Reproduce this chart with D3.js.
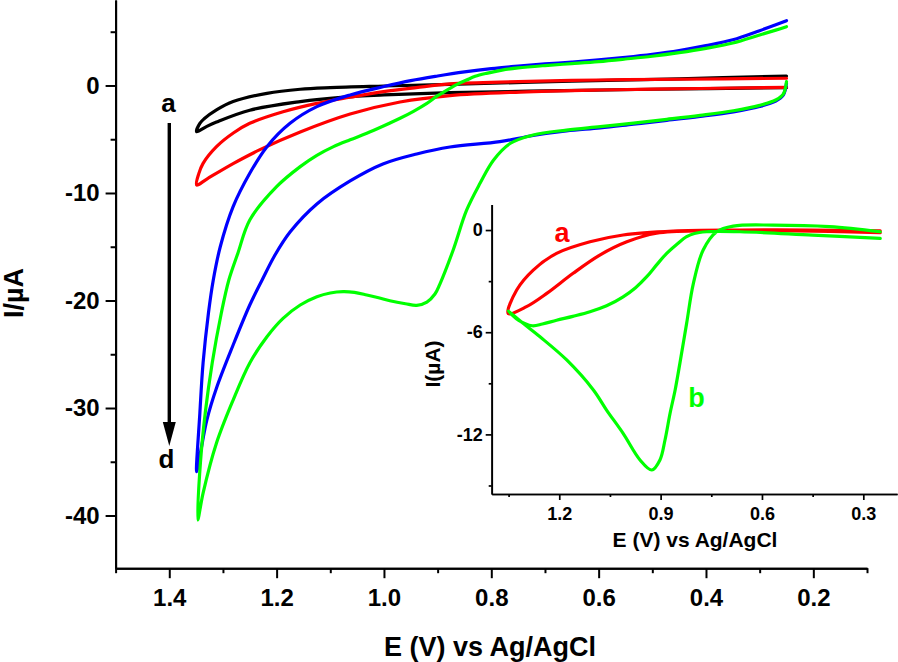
<!DOCTYPE html>
<html><head><meta charset="utf-8">
<script src="https://cdn.jsdelivr.net/npm/d3@7"></script>
<style>
body{margin:0;background:#fff;}
svg text{font-family:"Liberation Sans",Arial,sans-serif;font-weight:bold;}
</style></head><body>
<svg id="c" width="898" height="662"></svg>
<script>
// ---------- Main plot ticks ----------
const mainXTicks = [1.4, 1.2, 1.0, 0.8, 0.6, 0.4, 0.2];
const mainXTickLabels = ["1.4", "1.2", "1.0", "0.8", "0.6", "0.4", "0.2"];
const mainXMinor = [1.5, 1.3, 1.1, 0.9, 0.7, 0.5, 0.3, 0.1];
const mainYTicks = [0, -10, -20, -30, -40];
const mainYTickLabels = ["0", "-10", "-20", "-30", "-40"];
const mainYMinor = [5, -5, -15, -25, -35];

// ---------- Main curves (E in V, I in µA) ----------
const curveNames = ["a", "b", "c", "d"];
const curveColors = ["#000000", "#ff0000", "#0000ff", "#00ff00"];

const aE = [0.25,0.45,0.65,0.877,1.0,1.1,1.156,1.218,1.281,1.312,1.335,1.343,1.349,
            1.33,1.312,1.25,1.156,1.08,1.0,0.877,0.70,0.50,0.25];
const aI = [0.88,0.62,0.40,0.11,-0.05,-0.2,-0.35,-0.73,-1.5,-2.28,-3.1,-3.52,-4.3,
            -3.8,-3.4,-2.3,-1.5,-1.1,-0.88,-0.67,-0.50,-0.35,-0.2];

const bE = [0.25,0.45,0.60,0.75,0.877,0.94,1.001,1.063,1.125,1.188,1.25,1.28,1.312,1.337,1.345,1.349,
            1.33,1.281,1.231,1.156,1.063,0.970,0.877,0.746,0.597,0.411,0.25];
const bI = [0.67,0.58,0.51,0.35,0.14,-0.2,-0.58,-1.10,-1.66,-2.44,-3.52,-4.4,-5.69,-7.24,-8.2,-9.26,
            -8.70,-7.27,-5.97,-4.33,-2.66,-1.54,-0.94,-0.61,-0.42,-0.28,-0.17];

const cE = [0.25,0.27,0.30,0.35,0.40,0.45,0.50,0.55,0.60,0.65,0.70,0.75,0.80,0.85,0.90,0.95,1.0,1.063,1.125,1.175,1.218,1.25,1.281,1.305,1.318,1.327,1.337,1.343,1.349,
            1.341,1.330,1.312,1.281,1.250,1.227,1.203,1.175,1.125,1.063,1.002,0.939,0.877,0.784,0.722,0.66,0.597,0.535,0.473,0.411,0.349,0.30,0.27,0.256,0.25];
const cI = [6.03,5.65,5.1,4.25,3.7,3.25,2.9,2.62,2.38,2.18,2.0,1.8,1.57,1.26,0.88,0.45,-0.1,-0.88,-1.97,-3.52,-5.69,-8.17,-11.27,-15.0,-18.09,-21.16,-25.81,-30.47,-35.93,
            -33.91,-31.12,-28.14,-24.14,-20.42,-18.09,-15.77,-13.63,-11.02,-8.88,-7.30,-6.37,-5.72,-5.23,-4.65,-4.23,-3.95,-3.6,-3.25,-2.88,-2.45,-1.95,-1.45,-0.9,0.2];

const dE = [0.25,0.27,0.30,0.35,0.40,0.45,0.50,0.55,0.60,0.65,0.70,0.75,0.78,0.809,0.83,0.846,0.862,0.877,0.90,0.92,0.945,0.97,1.0,1.032,1.063,1.094,1.125,1.156,1.2,1.25,1.272,1.289,1.303,1.320,1.333,1.342,1.347,
            1.337,1.312,1.281,1.25,1.218,1.188,1.156,1.125,1.1,1.076,1.055,1.032,1.01,0.989,0.96,0.939,0.92,0.905,0.896,0.871,0.846,0.821,0.796,0.765,0.722,0.66,0.597,0.535,0.473,0.411,0.349,0.30,0.27,0.256,0.25];
const dI = [5.47,5.15,4.7,3.95,3.45,3.05,2.72,2.46,2.22,2.03,1.85,1.63,1.43,1.13,0.85,0.51,0.15,-0.26,-0.95,-1.66,-2.4,-3.05,-3.75,-4.45,-5.05,-5.69,-6.5,-7.55,-9.41,-12.51,-15.58,-18.09,-21.16,-25.81,-30.47,-35.12,-40.42,
            -37.91,-33.26,-29.26,-25.81,-23.37,-21.66,-20.42,-19.65,-19.3,-19.18,-19.25,-19.49,-19.75,-20.02,-20.3,-20.45,-20.15,-19.4,-18.5,-15.3,-11.6,-9.1,-6.95,-5.4,-4.6,-4.15,-3.83,-3.5,-3.15,-2.78,-2.35,-1.85,-1.35,-0.8,0.35];

// ---------- Inset ticks ----------
const insXTicks = [1.2, 0.9, 0.6, 0.3];
const insXTickLabels = ["1.2", "0.9", "0.6", "0.3"];
const insXMinor = [1.35, 1.05, 0.75, 0.45];
const insYTicks = [0, -6, -12];
const insYTickLabels = ["0", "-6", "-12"];
const insYMinor = [-3, -9, -15];

// ---------- Inset curves ----------
const insNames = ["a", "b"];
const insColors = ["#ff0000", "#00ff00"];
const iaE = [0.25,0.45,0.665,0.863,1.011,1.109,1.208,1.277,1.326,1.351,
             1.297,1.237,1.159,1.080,1.0,0.912,0.764,0.5,0.25];
const iaI = [-0.05,0,0,-0.06,-0.29,-0.69,-1.37,-2.35,-3.52,-4.9,
             -4.50,-3.72,-2.54,-1.47,-0.69,-0.19,-0.04,-0.05,-0.15];
const ibE = [0.25,0.45,0.665,0.764,0.80,0.823,0.85,0.882,0.91,0.941,0.975,1.011,1.06,1.109,1.16,1.208,1.25,1.28,1.32,1.351,
             1.307,1.257,1.178,1.099,1.06,1.011,0.961,0.926,0.902,0.887,0.872,0.857,0.843,0.823,0.803,0.774,0.734,0.685,0.566,0.4,0.25];
const ibI = [-0.49,-0.3,-0.1,-0.1,-0.2,-0.39,-0.8,-1.37,-2.0,-2.74,-3.4,-3.92,-4.45,-4.80,-5.07,-5.3,-5.52,-5.62,-5.3,-4.75,
             -5.48,-6.27,-7.63,-9.39,-10.57,-11.94,-13.5,-14.09,-13.5,-12.33,-10.76,-9.39,-7.83,-5.48,-3.13,-1.17,-0.1,0.23,0.29,0.2,-0.1];

// ---------- Drawing ----------
const svg = d3.select("#c");
const zip = (E, I) => E.map((e, i) => [e, I[i]]);

// main scales
const x = d3.scaleLinear().domain([1.5, 0.1]).range([115.6, 867]);
const y = d3.scaleLinear().domain([7.95, -44.9]).range([0, 568.2]);

function styleAxis(g, fs, sw) {
  g.selectAll("path.domain").attr("stroke", "#000").attr("stroke-width", sw);
  g.selectAll(".tick line").attr("stroke", "#000").attr("stroke-width", sw);
  g.selectAll("text").attr("fill", "#000").attr("font-size", fs)
    .attr("font-family", "'Liberation Sans',Arial,sans-serif").attr("font-weight", "bold");
}

// main left axis
const gyMinor = svg.append("g").attr("transform", `translate(${x(1.5)},0)`)
  .call(d3.axisLeft(y).tickValues(mainYMinor).tickFormat("").tickSize(5).tickSizeOuter(0));
styleAxis(gyMinor, 24, 2);
const gy = svg.append("g").attr("transform", `translate(${x(1.5)},0)`)
  .call(d3.axisLeft(y).tickValues(mainYTicks).tickFormat((d, i) => mainYTickLabels[i])
    .tickSize(10).tickPadding(6).tickSizeOuter(0));
styleAxis(gy, 24, 2);

// main bottom axis
const gxMinor = svg.append("g").attr("transform", `translate(0,${y(-44.9)})`)
  .call(d3.axisBottom(x).tickValues(mainXMinor).tickFormat("").tickSize(5).tickSizeOuter(0));
styleAxis(gxMinor, 24, 2);
const gx = svg.append("g").attr("transform", `translate(0,${y(-44.9)})`)
  .call(d3.axisBottom(x).tickValues(mainXTicks).tickFormat((d, i) => mainXTickLabels[i])
    .tickSize(10).tickPadding(11).tickSizeOuter(0));
styleAxis(gx, 24, 2);

// main axis titles
svg.append("text").attr("x", 490).attr("y", 656).attr("text-anchor", "middle")
  .attr("font-size", 27).text("E (V) vs Ag/AgCl");
svg.append("text").attr("transform", "translate(23,293) rotate(-90)").attr("text-anchor", "middle")
  .attr("font-size", 27).text("I/µA");

// main curves
const line = d3.line().x(d => x(d[0])).y(d => y(d[1])).curve(d3.curveCatmullRom.alpha(0.5));
const mainData = [zip(aE, aI), zip(bE, bI), zip(cE, cI), zip(dE, dI)];
mainData.forEach((pts, k) => {
  svg.append("path").datum(pts).attr("d", line).attr("fill", "none")
    .attr("stroke", curveColors[k]).attr("stroke-width", 3.2)
    .attr("stroke-linejoin", "round").attr("stroke-linecap", "round");
});

// arrow a -> d
const ax = 169.3;
svg.append("line").attr("x1", ax).attr("x2", ax).attr("y1", 123).attr("y2", 428)
  .attr("stroke", "#000").attr("stroke-width", 3.4);
svg.append("path").attr("d", `M${ax - 6.5},422 L${ax + 6.5},422 L${ax},446 Z`).attr("fill", "#000");
svg.append("text").attr("x", 168.5).attr("y", 111.5).attr("text-anchor", "middle")
  .attr("font-size", 26).text(curveNames[0]);
svg.append("text").attr("x", 166.5).attr("y", 468).attr("text-anchor", "middle")
  .attr("font-size", 26).text(curveNames[3]);

// ---------- Inset ----------
const xi = d3.scaleLinear().domain([1.4, 0.2]).range([491.7, 897.1]);
const yi = d3.scaleLinear().domain([1.5, -15.5]).range([204.5, 494]);

const giyMinor = svg.append("g").attr("transform", `translate(${xi(1.4)},0)`)
  .call(d3.axisLeft(yi).tickValues(insYMinor).tickFormat("").tickSize(3).tickSizeOuter(0));
styleAxis(giyMinor, 18, 1.7);
const giy = svg.append("g").attr("transform", `translate(${xi(1.4)},0)`)
  .call(d3.axisLeft(yi).tickValues(insYTicks).tickFormat((d, i) => insYTickLabels[i])
    .tickSize(6).tickPadding(3).tickSizeOuter(0));
styleAxis(giy, 18, 1.7);

const gixMinor = svg.append("g").attr("transform", `translate(0,${yi(-15.5)})`)
  .call(d3.axisBottom(xi).tickValues(insXMinor).tickFormat("").tickSize(3).tickSizeOuter(0));
styleAxis(gixMinor, 18, 1.7);
const gix = svg.append("g").attr("transform", `translate(0,${yi(-15.5)})`)
  .call(d3.axisBottom(xi).tickValues(insXTicks).tickFormat((d, i) => insXTickLabels[i])
    .tickSize(6).tickPadding(7).tickSizeOuter(0));
styleAxis(gix, 18, 1.7);

svg.append("text").attr("x", 695).attr("y", 546.5).attr("text-anchor", "middle")
  .attr("font-size", 21).text("E (V) vs Ag/AgCl");
svg.append("text").attr("transform", "translate(440,364) rotate(-90)").attr("text-anchor", "middle")
  .attr("font-size", 21).text("I(µA)");

const lineI = d3.line().x(d => xi(d[0])).y(d => yi(d[1])).curve(d3.curveCatmullRom.alpha(0.5));
[zip(iaE, iaI), zip(ibE, ibI)].forEach((pts, k) => {
  svg.append("path").datum(pts).attr("d", lineI).attr("fill", "none")
    .attr("stroke", insColors[k]).attr("stroke-width", 3.2)
    .attr("stroke-linejoin", "round").attr("stroke-linecap", "round");
});
svg.append("text").attr("x", 562).attr("y", 241.5).attr("text-anchor", "middle")
  .attr("font-size", 27).attr("fill", insColors[0]).text(insNames[0]);
svg.append("text").attr("x", 696.5).attr("y", 406.5).attr("text-anchor", "middle")
  .attr("font-size", 27).attr("fill", insColors[1]).text(insNames[1]);
</script>
</body></html>
